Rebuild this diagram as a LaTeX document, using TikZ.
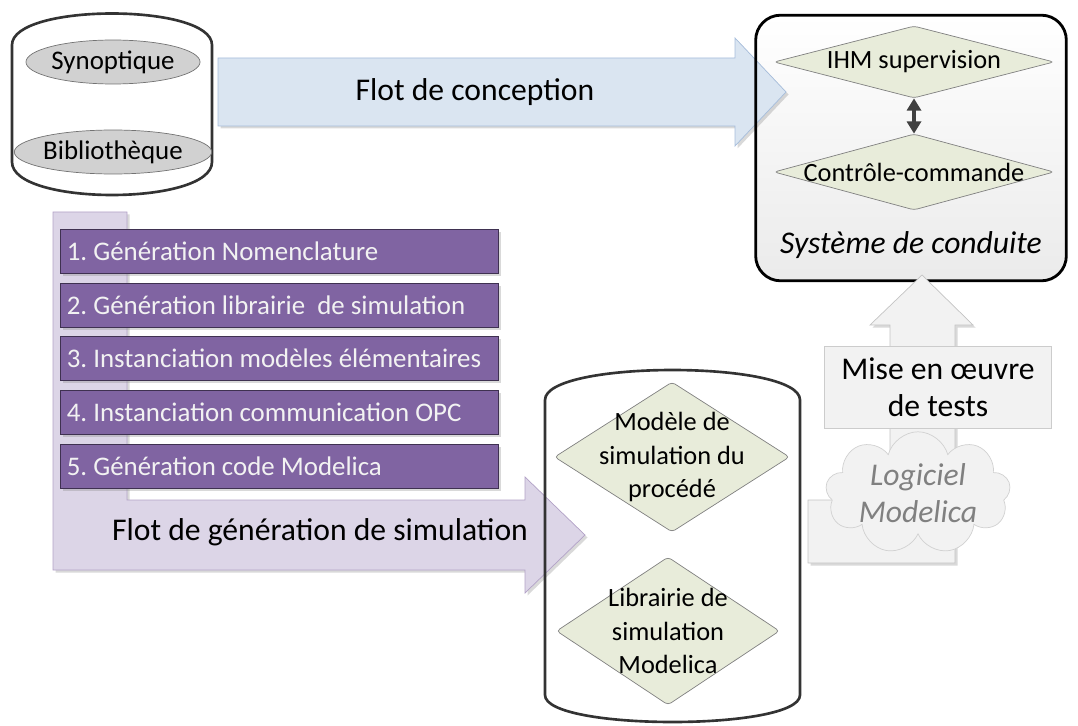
\documentclass[tikz,border=0pt]{standalone}
\usepackage{fontspec}
\setmainfont{Carlito}
\usepackage{tikz}
\usetikzlibrary{arrows.meta, positioning, shapes.geometric, shapes.symbols, shadows}
\definecolor{violetbloc}{HTML}{8064A2}
\definecolor{violetbord}{HTML}{3F3151}
\definecolor{lavande}{HTML}{DCD5E7}
\definecolor{lavandebord}{HTML}{B3A2C7}
\definecolor{bleuflot}{HTML}{DAE5F1}
\definecolor{bleubord}{HTML}{A6BDDB}
\definecolor{vertpale}{HTML}{E8ECDA}
\definecolor{grisclair}{HTML}{F2F2F2}
\definecolor{grisbord}{HTML}{C4C4C4}
\definecolor{grisfonce}{HTML}{404040}
\frenchspacing

\begin{document}
\begin{tikzpicture}[x=0.02cm, y=-0.02cm,
    ombre/.style={drop shadow={opacity=0.3, shadow xshift=0.05cm, shadow yshift=-0.05cm}},
    stepbox/.style={rectangle, draw=violetbord, fill=violetbloc, text=grisclair, text width=8.5cm,
                    minimum height=0.88cm, inner xsep=0.13cm, inner ysep=0pt, align=flush left,
                    font=\fontsize{15.3}{18}\selectfont\frenchspacing, ombre},
    ellip/.style={ellipse, draw=black!55, fill=black!18, minimum width=3.4cm, minimum height=0.88cm,
                  inner sep=0pt, font=\fontsize{15.3}{18}\selectfont},
    dia/.style={diamond, draw=black!50, fill=vertpale, rounded corners=2pt, inner sep=0pt},
    lbl/.style={align=center, inner sep=0pt, font=\fontsize{15}{19}\selectfont},
    titre/.style={inner sep=0pt, font=\fontsize{18}{22}\selectfont},
    cuve/.style={draw=black!80, line width=1.5pt},
    flotbleu/.style={draw=bleubord, fill=bleuflot, ombre},
    flotlav/.style={draw=lavandebord, fill=lavande, ombre},
    flotgris/.style={draw=grisbord, fill=grisclair, ombre},
    dbl/.style={{Triangle[length=7pt, width=8pt]}-{Triangle[length=7pt, width=8pt]}, line width=2pt, grisfonce}
]
\useasboundingbox (0,0) rectangle (1078,726);

% base de conception
\draw[cuve] (12,45) .. controls (12,3) and (212,3) .. (212,45) -- (212,162)
    .. controls (212,206) and (12,206) .. (12,162) -- cycle;
\node[ellip] (syn) at (113,62) {Synoptique};
\node[ellip] (bib) at (113,152) {Bibliothèque};

% systeme de conduite
\node[rectangle, rounded corners=0.5cm, top color=white, bottom color=black!8,
      minimum width=6.2cm, minimum height=5.3cm] (sys) at (911,148) {};
\draw[flotbleu] (218,58) -- (735,58) -- (735,38) -- (786,92) -- (735,146) -- (735,126) -- (218,126) -- cycle;
\node[titre] (conc) at (475,92) {Flot de conception};
\draw[line width=1.6pt, rounded corners=0.5cm] (sys.north west) rectangle (sys.south east);
\node[dia, minimum width=5.6cm, minimum height=1.44cm] (ihm) at (914,62) {};
\node[lbl] (ihmt) at (ihm) {IHM supervision};
\node[dia, minimum width=5.6cm, minimum height=1.52cm] (cc) at (914,172) {};
\node[lbl] (cct) at (cc) {Contrôle-commande};
\draw[dbl] (ihm.south) -- (cc.north);
\node[titre, font=\fontsize{18}{22}\selectfont\itshape] (sdc) at (911,245) {Système de conduite};

% flot de generation
\draw[flotlav] (53,212) -- (127,212) -- (127,500) -- (525,500) -- (525,477) -- (585,535)
    -- (525,593) -- (525,570) -- (53,570) -- cycle;
\node[titre] (gen) at (320,532) {Flot de génération de simulation};
\node[stepbox, anchor=north west] (e1) at (60,229) {1. Génération Nomenclature};
\node[stepbox, below=0.18cm of e1] (e2) {2. Génération librairie\ \ de simulation};
\node[stepbox, below=0.18cm of e2] (e3) {3. Instanciation modèles élémentaires};
\node[stepbox, below=0.18cm of e3] (e4) {4. Instanciation communication OPC};
\node[stepbox, below=0.18cm of e4] (e5) {5. Génération code Modelica};

% base de simulation
\draw[cuve] (545,400) .. controls (545,360) and (800,360) .. (800,400) -- (800,695)
    .. controls (800,731) and (545,731) .. (545,695) -- cycle;
\node[dia, minimum width=4.7cm, minimum height=3cm] (mod) at (672,457) {};
\node[lbl] (modt) at (mod) {Modèle de\\simulation du\\procédé};
\node[dia, minimum width=4.46cm, minimum height=2.96cm] (lib) at (668,631) {};
\node[lbl] (libt) at (lib) {Librairie de\\simulation\\Modelica};

% mise en oeuvre
\draw[flotgris] (808,500) -- (890,500) -- (890,325) -- (870,325) -- (922,275) -- (973,325)
    -- (955,325) -- (955,563) -- (808,563) -- cycle;
\node[rectangle, draw=black!20, fill=grisclair, minimum width=4.54cm, minimum height=1.64cm,
      align=center, inner sep=0pt, font=\fontsize{18}{21}\selectfont] (mise) at (938,387) {Mise en œuvre\\de tests};
\node[cloud, cloud puffs=9, cloud ignores aspect, draw=black!18, fill=grisclair, text=black!50,
      minimum width=3.7cm, minimum height=2.2cm, inner sep=0pt, align=center,
      font=\fontsize{18}{21}\selectfont\itshape] (logi) at (918,493) {Logiciel\\Modelica};
\end{tikzpicture}
\end{document}
